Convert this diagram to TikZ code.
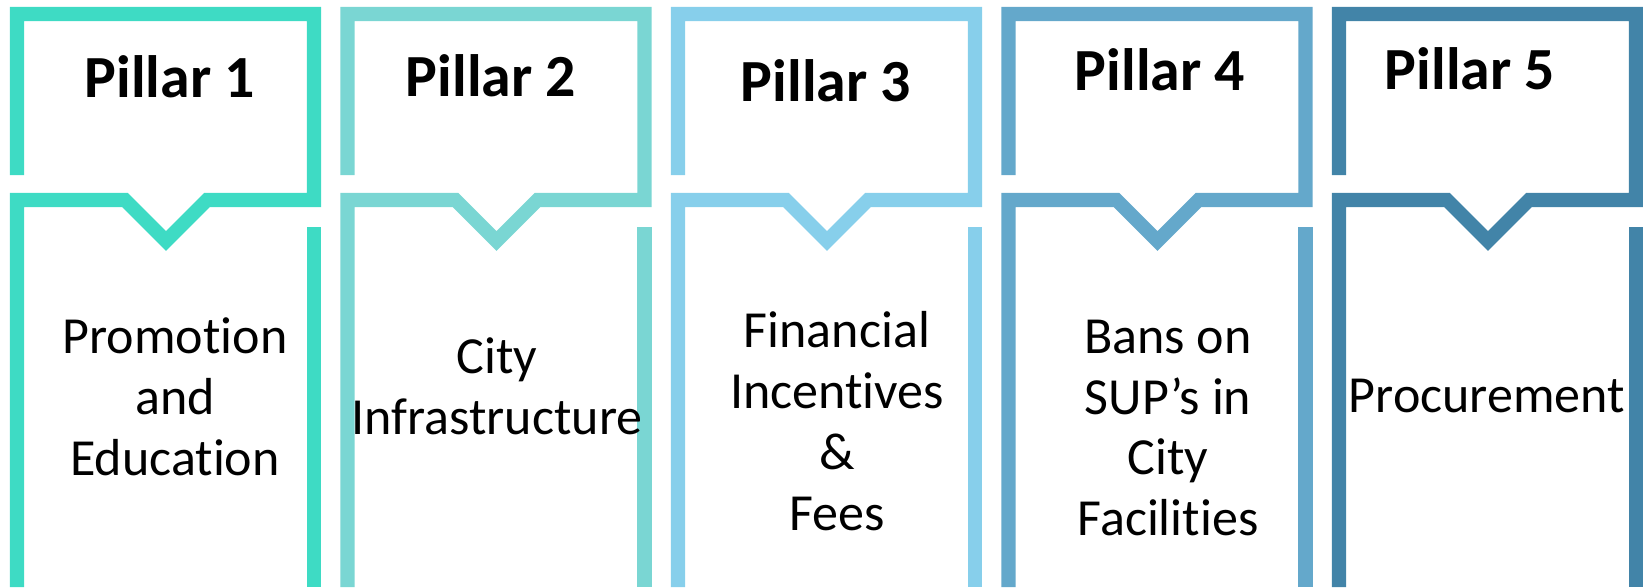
\documentclass[tikz,border=0pt]{standalone}
\usepackage{fontspec}
\setmainfont{Carlito}[RawFeature=-liga]
\definecolor{pillarA}{HTML}{3EDBC4}
\definecolor{pillarB}{HTML}{7AD6D3}
\definecolor{pillarC}{HTML}{87CFEB}
\definecolor{pillarD}{HTML}{64A8CB}
\definecolor{pillarE}{HTML}{4284A8}
\tikzset{
	frame/.style={line width=4pt, line join=miter},
	title/.style={font=\bfseries\fontsize{17}{20}\selectfont, inner sep=0pt},
	body/.style={font=\fontsize{14.8}{17.3}\selectfont, align=center, inner sep=0pt},
}

\begin{document}
\begin{tikzpicture}[x=0.01cm, y=-0.01cm]
	\useasboundingbox (0,0) rectangle (1643,587);
	\foreach \i/\col in {0/pillarA, 1/pillarB, 2/pillarC, 3/pillarD, 4/pillarE} {
		\begin{scope}[shift={(\i*330.5,0)}]
			\draw [frame, draw=\col] (17,175) -- (17,14) -- (314,14) -- (314,200)
				-- (207,200) -- (166,241) -- (125,200) -- (17,200) -- (17,587);
			\draw [frame, draw=\col] (314,227) -- (314,587);
		\end{scope}
	}
	\node [title] (T1) at (170,77) {Pillar 1};
	\node [title] (T2) at (491,76) {Pillar 2};
	\node [title] (T3) at (826,81) {Pillar 3};
	\node [title] (T4) at (1160,70) {Pillar 4};
	\node [title] (T5) at (1470,69) {Pillar 5};
	\node [body] (B1) at (175,397) {Promotion\\and\\Education};
	\node [body] (B2) at (497,386) {City\\Infrastructure};
	\node [body] (B3) at (837,421) {Financial\\Incentives\\\&\\Fees};
	\node [body] (B4) at (1168,428) {Bans on\\SUP’s in\\City\\Facilities};
	\node [body] (B5) at (1487,396) {Procurement};
\end{tikzpicture}
\end{document}
